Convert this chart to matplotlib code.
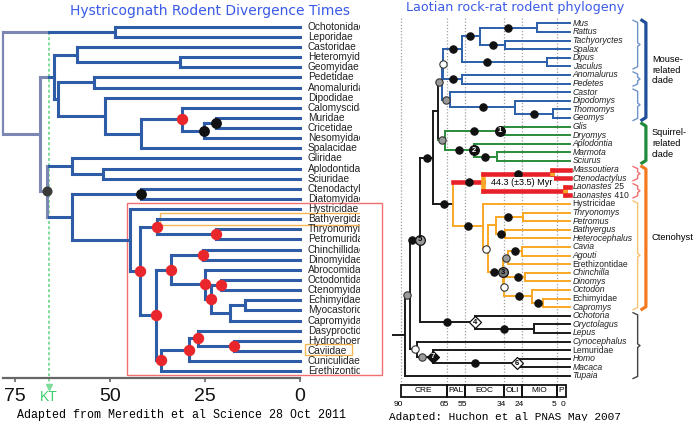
import matplotlib
matplotlib.use("Agg")
import matplotlib.pyplot as plt
from matplotlib.patches import Rectangle

plt.rcParams['font.family'] = ['Liberation Sans', 'DejaVu Sans']

# ---------------- left tree (Meredith et al 2011), ages in Myr ----------------
left_leaves = ["Ochotonidae", "Leporidae", "Castoridae", "Heteromyidae", "Geomyidae",
               "Pedetidae", "Anomaluridae", "Dipodidae", "Calomyscidae", "Muridae",
               "Cricetidae", "Nesomyidae", "Spalacidae", "Gliridae", "Aplodontidae",
               "Sciuridae", "Ctenodactylidae", "Diatomyidae", "Hystricidae", "Bathyergidae",
               "Thryonomyidae", "Petromuridae", "Chinchillidae", "Dinomyidae", "Abrocomidae",
               "Octodontidae", "Ctenomyidae", "Echimyidae", "Myocastoridae", "Capromyidae",
               "Dasyproctidae", "Hydrochoeridae", "Caviidae", "Cuniculidae", "Erethizontidae"]
# clade = (first leaf, last leaf, node age)
left_clades = [
    ("Ochotonidae", "Erethizontidae", 78.2), ("Ochotonidae", "Leporidae", 48.7),
    ("Castoridae", "Erethizontidae", 68.4), ("Castoridae", "Spalacidae", 64.7),
    ("Castoridae", "Geomyidae", 58.7), ("Heteromyidae", "Geomyidae", 31.6),
    ("Pedetidae", "Spalacidae", 63.7), ("Pedetidae", "Anomaluridae", 54.2),
    ("Dipodidae", "Spalacidae", 51.3), ("Calomyscidae", "Spalacidae", 41.8),
    ("Calomyscidae", "Nesomyidae", 31.0), ("Muridae", "Nesomyidae", 25.3),
    ("Muridae", "Cricetidae", 22.0), ("Gliridae", "Erethizontidae", 66.5),
    ("Gliridae", "Sciuridae", 60.0), ("Aplodontidae", "Sciuridae", 51.8),
    ("Ctenodactylidae", "Erethizontidae", 60.0), ("Ctenodactylidae", "Diatomyidae", 41.8),
    ("Hystricidae", "Erethizontidae", 44.7), ("Bathyergidae", "Erethizontidae", 42.1),
    ("Bathyergidae", "Petromuridae", 37.6), ("Thryonomyidae", "Petromuridae", 22.1),
    ("Chinchillidae", "Erethizontidae", 37.9), ("Chinchillidae", "Capromyidae", 33.9),
    ("Chinchillidae", "Dinomyidae", 25.5), ("Abrocomidae", "Capromyidae", 25.0),
    ("Octodontidae", "Capromyidae", 23.4), ("Octodontidae", "Ctenomyidae", 20.8),
    ("Echimyidae", "Capromyidae", 18.4), ("Echimyidae", "Myocastoridae", 14.5),
    ("Dasyproctidae", "Erethizontidae", 36.6), ("Dasyproctidae", "Cuniculidae", 29.2),
    ("Dasyproctidae", "Caviidae", 26.8), ("Hydrochoeridae", "Caviidae", 17.4),
]
left_red = [("Calomyscidae", "Nesomyidae"), ("Bathyergidae", "Petromuridae"),
            ("Thryonomyidae", "Petromuridae"), ("Bathyergidae", "Erethizontidae"),
            ("Chinchillidae", "Dinomyidae"), ("Chinchillidae", "Capromyidae"),
            ("Abrocomidae", "Capromyidae"), ("Octodontidae", "Ctenomyidae"),
            ("Octodontidae", "Capromyidae"), ("Chinchillidae", "Erethizontidae"),
            ("Dasyproctidae", "Caviidae"), ("Hydrochoeridae", "Caviidae"),
            ("Dasyproctidae", "Cuniculidae"), ("Dasyproctidae", "Erethizontidae")]
left_black = [("Muridae", "Cricetidae"), ("Muridae", "Nesomyidae"),
              ("Ctenodactylidae", "Diatomyidae")]
left_gray = [("Gliridae", "Erethizontidae")]
left_ticks = [75, 50, 25, 0]
KT_AGE = 66

# ---------------- right tree (Huchon et al 2007) ----------------
right_leaves = ["Mus", "Rattus", "Tachyoryctes", "Spalax", "Dipus", "Jaculus", "Anomalurus",
                "Pedetes", "Castor", "Dipodomys", "Thomomys", "Geomys", "Glis", "Dryomys",
                "Aplodontia", "Marmota", "Sciurus", "Massoutiera", "Ctenodactylus",
                "Laonastes 25", "Laonastes 410", "Hystricidae", "Thryonomys", "Petromus",
                "Bathyergus", "Heterocephalus", "Cavia", "Agouti", "Erethizontidae",
                "Chinchilla", "Dinomys", "Octodon", "Echimyidae", "Capromys", "Ochotona",
                "Oryctolagus", "Lepus", "Cynocephalus", "Lemuridae", "Homo", "Macaca", "Tupaia"]
right_clades = [
    ("Mus", "Tupaia", 87.6), ("Mus", "Macaca", 84.9), ("Mus", "Lepus", 79.5),
    ("Mus", "Capromys", 72.6), ("Mus", "Sciurus", 69.5), ("Mus", "Geomys", 67.3),
    ("Mus", "Pedetes", 66.8), ("Mus", "Jaculus", 56.8), ("Mus", "Spalax", 46.8),
    ("Mus", "Rattus", 16.0), ("Tachyoryctes", "Spalax", 33.2), ("Dipus", "Jaculus", 10.5),
    ("Anomalurus", "Pedetes", 56.5), ("Castor", "Geomys", 63.1), ("Dipodomys", "Geomys", 27.8),
    ("Thomomys", "Geomys", 7.3), ("Glis", "Sciurus", 65.9), ("Glis", "Dryomys", 35.9),
    ("Aplodontia", "Sciurus", 50.2), ("Marmota", "Sciurus", 37.7),
    ("Massoutiera", "Capromys", 61.4), ("Massoutiera", "Laonastes 410", 45.0),
    ("Massoutiera", "Ctenodactylus", 7.8), ("Laonastes 25", "Laonastes 410", 0.8),
    ("Hystricidae", "Capromys", 45.0), ("Thryonomys", "Capromys", 42.5),
    ("Thryonomys", "Heterocephalus", 38.1), ("Thryonomys", "Petromus", 23.2),
    ("Bathyergus", "Heterocephalus", 33.2), ("Cavia", "Capromys", 34.1),
    ("Cavia", "Erethizontidae", 31.4), ("Cavia", "Agouti", 24.1),
    ("Chinchilla", "Capromys", 33.5), ("Chinchilla", "Dinomys", 22.3),
    ("Octodon", "Capromys", 18.7), ("Echimyidae", "Capromys", 12.3),
    ("Ochotona", "Lepus", 49.5), ("Oryctolagus", "Lepus", 17.4),
    ("Cynocephalus", "Macaca", 81.3), ("Lemuridae", "Macaca", 72.4), ("Homo", "Macaca", 26.8),
]
BLUE_R, GREEN_R, RED_R, ORANGE_R, BLACK_R = "#2c5fa8", "#2a8c3c", "#e8202a", "#f9a825", "#1a1a1a"
right_colors = [("Mus", "Geomys", BLUE_R), ("Glis", "Sciurus", GREEN_R),
                ("Massoutiera", "Laonastes 410", RED_R), ("Hystricidae", "Capromys", ORANGE_R)]
right_vcolors = [("Massoutiera", "Capromys", ORANGE_R)]
right_thick = [("Massoutiera", "Laonastes 410")]
# dots on branches: (first, last, age, kind)  k=black g=grey w=white
right_dots = [
    ("Mus", "Rattus", 31.7, "k"), ("Tachyoryctes", "Spalax", 39.9, "k"), ("Mus", "Spalax", 52.3, "k"),
    ("Dipus", "Jaculus", 43.2, "k"), ("Mus", "Jaculus", 61.7, "k"), ("Anomalurus", "Pedetes", 61.3, "k"),
    ("Mus", "Pedetes", 67.0, "w"), ("Thomomys", "Geomys", 17.4, "k"), ("Dipodomys", "Geomys", 45.0, "k"),
    ("Castor", "Geomys", 65.5, "g"), ("Mus", "Geomys", 69.3, "g"), ("Glis", "Sciurus", 67.7, "g"),
    ("Glis", "Dryomys", 49.9, "k"), ("Aplodontia", "Sciurus", 58.0, "k"), ("Marmota", "Sciurus", 44.1, "k"),
    ("Massoutiera", "Capromys", 66.5, "k"), ("Mus", "Capromys", 75.7, "k"),
    ("Massoutiera", "Laonastes 410", 52.6, "k"), ("Massoutiera", "Ctenodactylus", 26.0, "k"),
    ("Hystricidae", "Capromys", 53.4, "k"), ("Thryonomys", "Capromys", 43.3, "w"),
    ("Thryonomys", "Petromus", 31.4, "k"), ("Bathyergus", "Heterocephalus", 35.5, "k"),
    ("Cavia", "Capromys", 39.0, "k"), ("Cavia", "Erethizontidae", 32.6, "g"),
    ("Cavia", "Agouti", 27.8, "k"), ("Chinchilla", "Capromys", 33.6, "w"),
    ("Chinchilla", "Dinomys", 26.1, "k"), ("Octodon", "Capromys", 25.4, "k"),
    ("Echimyidae", "Capromys", 15.0, "k"), ("Ochotona", "Lepus", 64.9, "k"),
    ("Oryctolagus", "Lepus", 33.6, "k"), ("Mus", "Lepus", 84.0, "k"), ("Mus", "Macaca", 86.7, "g"),
    ("Cynocephalus", "Macaca", 82.2, "w"), ("Lemuridae", "Macaca", 78.6, "g"),
    ("Homo", "Macaca", 49.5, "k"),
]
# numbered calibration marks at nodes: (first, last, label, marker, face, text colour)
right_marks = [
    ("Glis", "Dryomys", "1", "o", "#111111", "white"),
    ("Aplodontia", "Sciurus", "2", "o", "#111111", "white"),
    ("Cavia", "Capromys", "3", "o", "#777777", "black"),
    ("Ochotona", "Lepus", "4", "D", "white", "black"),
    ("Mus", "Lepus", "5", "o", "#999999", "black"),
    ("Homo", "Macaca", "6", "D", "white", "black"),
    ("Lemuridae", "Macaca", "7", "D", "#111111", "white"),
]
periods = [("CRE", 90, 65), ("PAL", 65, 55), ("EOC", 55, 34), ("OLI", 34, 24), ("MIO", 24, 5), ("P", 5, 0)]
right_ticks = [90, 65, 55, 34, 24, 5, 0]
thin_brackets = [("Mus", "Jaculus", "#6d93c9"), ("Anomalurus", "Pedetes", "#6d93c9"),
                 ("Castor", "Geomys", "#6d93c9"), ("Massoutiera", "Ctenodactylus", "#f07070"),
                 ("Laonastes 25", "Laonastes 410", "#f07070"), ("Hystricidae", "Capromys", "#f8c373"),
                 ("Ochotona", "Tupaia", "#444444")]
clade_bars = [("Mus", "Geomys", "#1f4f9a", "Mouse-\nrelated\nclade"),
              ("Glis", "Sciurus", "#1e8a3a", "Squirrel-\nrelated\nclade"),
              ("Massoutiera", "Capromys", "#f47a20", "Ctenohyst")]


def geometry(leaves, clades):
    idx = {n: i for i, n in enumerate(leaves)}
    spans = {(idx[a], idx[b]): age for a, b, age in clades}
    kids = {}
    for lo, hi in spans:
        inner = [k for k in spans if k != (lo, hi) and lo <= k[0] and k[1] <= hi]
        top = [k for k in inner if not any(u != k and u[0] <= k[0] and k[1] <= u[1] for u in inner)]
        cov = {i for k in top for i in range(k[0], k[1] + 1)}
        kids[(lo, hi)] = top + [(i, i) for i in range(lo, hi + 1) if i not in cov]
    ys = {}

    def yy(k):
        if k not in spans:
            return float(k[0])
        if k not in ys:
            c = [yy(q) for q in kids[k]]
            ys[k] = (min(c) + max(c)) / 2
        return ys[k]
    for k in spans:
        yy(k)
    return idx, spans, kids, yy


def pick(k, table, default):
    best, size = default, None
    for lo, hi, val in table:
        if lo <= k[0] and k[1] <= hi and (size is None or hi - lo < size):
            best, size = val, hi - lo
    return best


fig = plt.figure(figsize=(6.98, 4.21), dpi=100)
ax1 = fig.add_axes([0, 0, 360 / 698, 1])
ax2 = fig.add_axes([380 / 698, 0, 318 / 698, 1])
ax1.set_xlim(78.95, -15.79)
ax1.set_ylim(38.92, -2.64)
ax2.set_xlim(101.27, -71.86)
ax2.set_ylim(46.24, -2.71)
ax1.patch.set_alpha(0)
ax2.axis("off")

# ---------------- left panel ----------------
BLUE, PALE = "#2f5ca6", "#7c87b4"
LW = 2.2
idx, spans, kids, yy = geometry(left_leaves, left_clades)


def hseg(x0, x1, y):
    if x0 > KT_AGE > x1:
        ax1.plot([x0, KT_AGE], [y, y], color=PALE, lw=LW, solid_capstyle="projecting")
        ax1.plot([KT_AGE, x1], [y, y], color=BLUE, lw=LW, solid_capstyle="projecting")
    else:
        ax1.plot([x0, x1], [y, y], color=PALE if x1 >= KT_AGE else BLUE, lw=LW,
                 solid_capstyle="projecting")


for k, age in spans.items():
    cy = [yy(c) for c in kids[k]]
    ax1.plot([age, age], [min(cy), max(cy)], color=PALE if age >= KT_AGE else BLUE,
             lw=1.6 if age > 75 else LW, solid_capstyle="projecting")
    for c in kids[k]:
        hseg(age, spans.get(c, 0), yy(c))

for names, fc, ms in [(left_red, "#e8262b", 7.2), (left_black, "#111111", 6.8), (left_gray, "#3a3a3a", 6.2)]:
    for a, b in names:
        k = (idx[a], idx[b])
        ax1.plot(spans[k], yy(k), "o", color=fc, ms=ms, zorder=5)

for i, name in enumerate(left_leaves):
    ax1.text(-2.1, i, name, fontsize=7.3, va="center", ha="left", color="#222222", clip_on=True)

# KT boundary
ax1.plot([KT_AGE, KT_AGE], [0.5, 35.4], ls=(0, (1.5, 1.2)), color="#7fdc9a", lw=1.4, zorder=1)
ax1.plot(KT_AGE, 35.6, marker="v", color="#7fdc9a", ms=4)
ax1.text(KT_AGE, 36.6, "KT", color="#3ccf6e", fontsize=10, ha="center", va="center")

# boxes
ax1.add_patch(Rectangle((45.5, 17.4), -67.1, 16.98, fill=False, ec="#f07070", lw=1, clip_on=False))
ax1.add_patch(Rectangle((36.8, 18.4), -60, 1.15, fill=False, ec="#f5b555", lw=1))
ax1.add_patch(Rectangle((-1.3, 31.3), -12.4, 1.08, fill=False, ec="#f5b555", lw=1))

for s in ["top", "left", "right"]:
    ax1.spines[s].set_visible(False)
ax1.spines["bottom"].set_position(("data", 34.67))
ax1.spines["bottom"].set_bounds(78.2, 0)
ax1.spines["bottom"].set_color("#666666")
ax1.spines["bottom"].set_linewidth(1.6)
ax1.set_xticks(left_ticks)
ax1.set_yticks([])
ax1.tick_params(axis="x", direction="out", length=3, width=1.2, color="#666666",
                labelsize=14, pad=4.5, labelcolor="#111111")

ax1.text(23.7, -1.55, "Hystricognath Rodent Divergence Times", color="#3a5ae8",
         fontsize=10, ha="center", va="center", family="DejaVu Sans")
ax1.text(74.5, 38.33, "Adapted from Meredith et al Science 28 Oct 2011", fontsize=8.4,
         family="Liberation Mono", ha="left", va="center", clip_on=False)

# ---------------- right panel ----------------
ridx, rspans, rkids, ryy = geometry(right_leaves, right_clades)
TIP = -2.0
ctab = [(ridx[a], ridx[b], c) for a, b, c in right_colors]
vtab = [(ridx[a], ridx[b], c) for a, b, c in right_vcolors]
wtab = [(ridx[a], ridx[b], 3.3) for a, b in right_thick]

for t in right_ticks[:-1]:
    ax2.plot([t, t], [-0.62, 42.06], ls=(0, (1, 1.5)), color="#a0a0a0", lw=0.9, zorder=0)

for k, age in rspans.items():
    cy = [ryy(c) for c in rkids[k]]
    col = pick(k, vtab, pick(k, ctab, BLACK_R))
    ax2.plot([age, age], [min(cy), max(cy)], color=col, lw=pick(k, wtab, 1.4),
             solid_capstyle="projecting", zorder=2)
    for c in rkids[k]:
        ax2.plot([age, rspans.get(c, TIP)], [ryy(c)] * 2, color=pick(c, ctab, BLACK_R),
                 lw=pick(c, wtab, 1.4), solid_capstyle="projecting", zorder=2)
root = (0, len(right_leaves) - 1)
ax2.plot([94, rspans[root]], [ryy(root)] * 2, color=BLACK_R, lw=1.4, zorder=2)

dot_style = {"k": ("#111111", "#111111"), "g": ("#9a9a9a", "#333333"), "w": ("white", "#333333")}
for a, b, age, kind in right_dots:
    k = (ridx[a], ridx[b])
    fc, ec = dot_style[kind]
    ax2.plot(age, ryy(k), "o", mfc=fc, mec=ec, mew=0.8, ms=5.3, zorder=4)
for a, b, lab, mk, fc, tc in right_marks:
    k = (ridx[a], ridx[b])
    ax2.plot(rspans[k], ryy(k), mk, mfc=fc, mec="#111111", mew=0.9, ms=7 if mk == "o" else 6.3, zorder=5)
    ax2.text(rspans[k], ryy(k), lab, color=tc, fontsize=5.5, ha="center", va="center",
             fontweight="bold", zorder=6)

ax2.text(24, 18.5, "44.3 (\u00b13.5) Myr", fontsize=6.6, ha="center", va="center", zorder=6,
         bbox=dict(fc="white", ec="none", pad=0.6))

for i, name in enumerate(right_leaves):
    genus = name.split()[0]
    style = "normal" if genus.endswith("idae") else "italic"
    t = ax2.text(-3.6, i, genus, fontsize=6.2, ha="left", va="center", color="#222222",
                 fontstyle=style)
    if " " in name:
        ax2.annotate(" " + name.split()[1], xy=(1, 0.5), xycoords=t, fontsize=6.2,
                     ha="left", va="center", color="#222222")

# brackets
for a, b, col in thin_brackets:
    y0, y1 = ridx[a] - 0.35, ridx[b] + 0.3
    ym = (y0 + y1) / 2
    ax2.plot([-36.5, -39.0, -39.0, -40.3, -39.0, -39.0, -36.5],
             [y0, y0 + 0.25, ym - 0.2, ym, ym + 0.2, y1 - 0.25, y1], color=col, lw=1.0)
for a, b, col, lab in clade_bars:
    y0, y1 = ridx[a] - 0.35, ridx[b] + 0.25
    ax2.plot([-41.3, -43.5, -43.5, -41.3], [y0, y0 + 0.3, y1 - 0.3, y1], color=col, lw=2.3,
             solid_joinstyle="round")
    ax2.text(-46.8, (y0 + y1) / 2, lab, fontsize=6.7, ha="left", va="center", linespacing=1.25)

# period boxes and ticks
for name, a, b in periods:
    ax2.add_patch(Rectangle((b, 42.06), a - b, 1.36, fill=False, ec="#111111", lw=1.3))
    ax2.text((a + b) / 2, 42.74, name, fontsize=6, ha="center", va="center")
for t in right_ticks:
    ax2.text(t + 1.5, 44.3, str(t), fontsize=6.0, ha="center", va="center")

ax2.text(27.8, -1.78, "Laotian rock-rat rodent phylogeny", color="#3a5ae8", fontsize=9.2,
         ha="center", va="center", family="DejaVu Sans")
ax2.text(96.4, 45.72, "Adapted: Huchon et al PNAS May 2007", fontsize=8.0,
         family="Liberation Mono", ha="left", va="center", clip_on=False)

fig.savefig("out.png", dpi=100)
plt.close(fig)
